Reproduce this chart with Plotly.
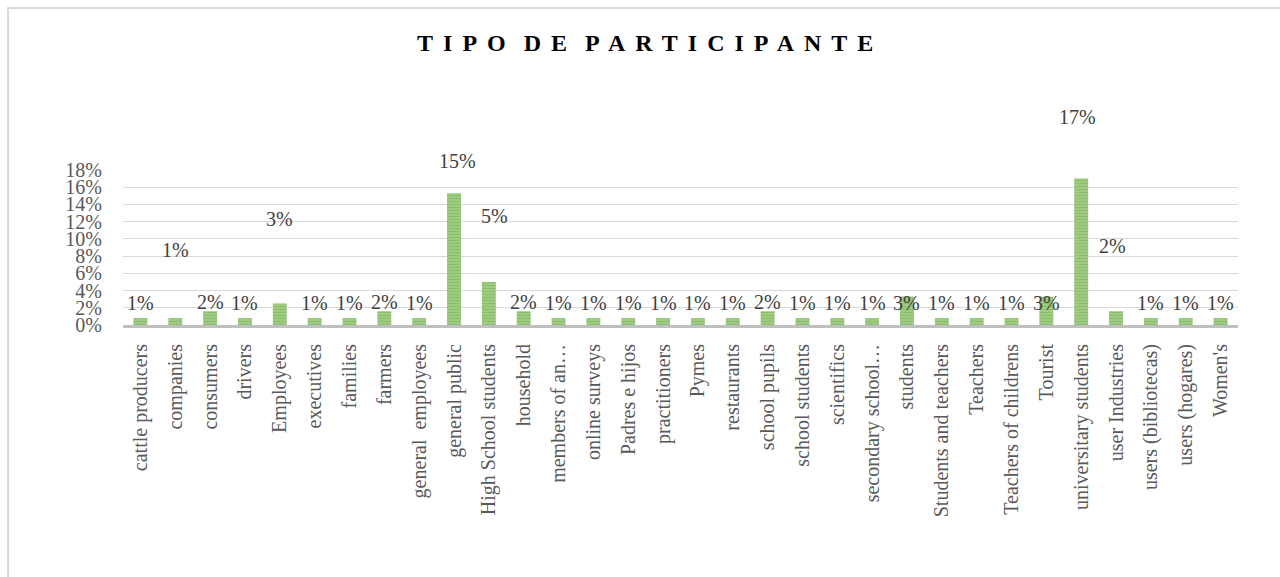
import plotly.graph_objects as go

# Data
categories = [
    "cattle producers", "companies", "consumers", "drivers", "Employees",
    "executives", "families", "farmers", "general  employees", "general public",
    "High School students", "household", "members of an…", "online surveys",
    "Padres e hijos", "practitioners", "Pymes", "restaurants", "school pupils",
    "school students", "scientifics", "secondary school…", "students",
    "Students and teachers", "Teachers", "Teachers of childrens", "Tourist",
    "universitary students", "user Industries", "users (bibliotecas)",
    "users (hogares)", "Women's",
]
share_pct = [
    0.8, 0.8, 1.6, 0.8, 2.5,
    0.8, 0.8, 1.6, 0.8, 15.3,
    5.0, 1.6, 0.8, 0.8,
    0.8, 0.8, 0.8, 0.8, 1.6,
    0.8, 0.8, 0.8, 3.3,
    0.8, 0.8, 0.8, 3.3,
    17.0, 1.6, 0.8,
    0.8, 0.8,
]
y_ticks = [0, 2, 4, 6, 8, 10, 12, 14, 16, 18]
y_tick_text = [f"{t}%" for t in y_ticks]

# Excel labels were dragged around by hand; pixel offsets (dx, dy) from the bar top
label_moves = {
    "companies": (0, 68),
    "Employees": (0, 84),
    "general public": (3, 32),
    "High School students": (6, 66),
    "students": (0, -6),
    "Tourist": (0, -6),
    "universitary students": (-4, 62),
    "user Industries": (-4, 65),
}

FONT = "Liberation Serif"
GREEN = "#70ad47"
LIGHT_GREEN = "#a9d18e"

fig = go.Figure()
fig.add_trace(go.Bar(
    x=categories,
    y=share_pct,
    marker=dict(
        color=GREEN,
        line=dict(width=0),
        pattern=dict(shape="-", fgcolor=GREEN, bgcolor=LIGHT_GREEN, size=3, solidity=0.6),
    ),
    hoverinfo="x+y",
))

for cat, val in zip(categories, share_pct):
    dx, dy = label_moves.get(cat, (0, 15 if val < 1 else 9))
    fig.add_annotation(
        x=cat, y=val, text=f"{int(val + 0.5)}%",
        showarrow=False, xanchor="center", yanchor="middle",
        xshift=dx, yshift=dy,
        font=dict(family=FONT, size=20, color="#404040"),
    )

# chart area border
fig.add_shape(type="rect", xref="paper", yref="paper",
              x0=-0.1031, x1=1.2, y0=-2.0, y1=2.045,
              line=dict(color="#d9d9d9", width=2), fillcolor="rgba(0,0,0,0)", layer="below")

fig.update_layout(
    width=1280, height=577,
    margin=dict(l=123, r=42, t=170, b=252),
    paper_bgcolor="white", plot_bgcolor="white",
    showlegend=False,
    bargap=0.6,
    font=dict(family=FONT, size=20, color="#595959"),
    title=dict(
        text="TIPO DE PARTICIPANTE",
        x=0.508, xref="container", xanchor="center",
        y=0.926, yref="container", yanchor="middle",
        font=dict(family=FONT, size=24, color="black", weight="bold"),
    ),
    xaxis=dict(
        type="category", tickangle=-90,
        showline=True, linecolor="#bfbfbf", linewidth=3,
        showgrid=False, ticks="", ticklabelstandoff=8,
        tickfont=dict(family=FONT, size=20, color="#595959"),
    ),
    yaxis=dict(
        range=[0, 18], tickvals=y_ticks, ticktext=y_tick_text,
        showgrid=True, gridcolor="#d9d9d9", gridwidth=1,
        zeroline=False, showline=False, ticks="",
        ticklabelstandoff=20,
        tickfont=dict(family=FONT, size=20, color="#595959"),
    ),
)

page_js = (
    "document.body.style.margin='0';"
    "document.querySelectorAll('.gtitle').forEach(function(t){"
    "t.style.letterSpacing='10px';t.style.wordSpacing='-8px';});"
)
fig.write_html("out.html", post_script=page_js, config={"displayModeBar": False})
